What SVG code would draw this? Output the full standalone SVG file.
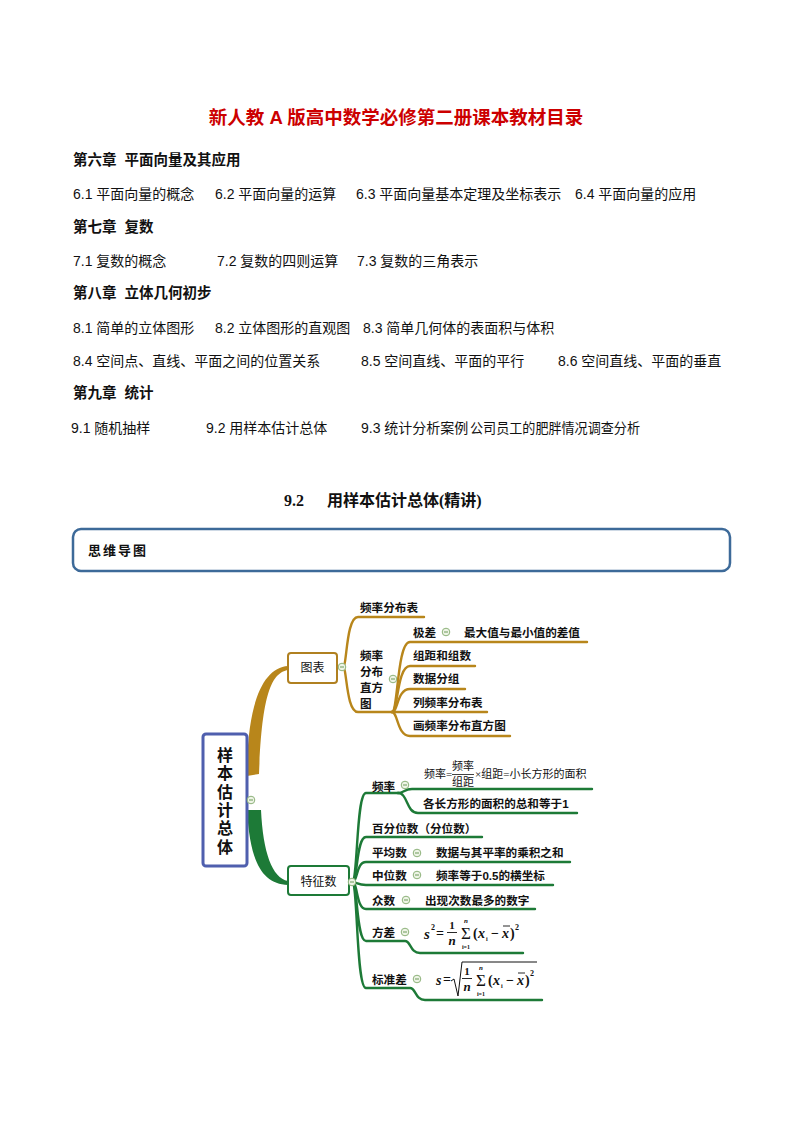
<svg xmlns="http://www.w3.org/2000/svg" xmlns:xlink="http://www.w3.org/1999/xlink" width="794" height="1123" viewBox="0 0 794 1123">
<style>
.t{font-family:"Liberation Sans","Noto Sans CJK SC",sans-serif;font-size:14px;fill:#111}
.h{font-family:"Liberation Sans","Noto Sans CJK SC",sans-serif;font-size:14.5px;font-weight:bold;fill:#111}
.m{font-family:"Liberation Sans","Noto Sans CJK SC",sans-serif;font-size:11.6px;font-weight:bold;fill:#111}
.n{font-family:"Liberation Sans","Noto Sans CJK SC",sans-serif;font-size:12px;fill:#111}
.f{font-family:"Liberation Serif","Noto Sans CJK SC",serif;font-size:11px;fill:#111}
.fi{font-family:"Liberation Serif",serif;font-style:italic;font-weight:bold;fill:#111}
.fb{font-family:"Liberation Serif",serif;font-weight:bold;fill:#111}
.br{fill:none;stroke:#b8861b;stroke-width:2.4;stroke-linecap:round}
.gr{fill:none;stroke:#1d7a37;stroke-width:2.4;stroke-linecap:round}
</style>
<defs>
<g id="col"><circle r="3.8" fill="#eef4e6" stroke="#8db27a" stroke-width="1"/><line x1="-2" y1="0" x2="2" y2="0" stroke="#6d9a5a" stroke-width="1"/></g>
</defs>
<rect width="794" height="1123" fill="#fff"/>

<text x="396" y="124" text-anchor="middle" font-family="Liberation Sans,Noto Sans CJK SC,sans-serif" font-size="18.5" font-weight="bold" fill="#cc0000">新人教 A 版高中数学必修第二册课本教材目录</text>

<text class="h" x="73" y="165">第六章<tspan dx="8">平面向量及其应用</tspan></text>
<text class="t" x="73" y="199">6.1 平面向量的概念</text>
<text class="t" x="215" y="199">6.2 平面向量的运算</text>
<text class="t" x="356" y="199">6.3 平面向量基本定理及坐标表示</text>
<text class="t" x="575" y="199">6.4 平面向量的应用</text>
<text class="h" x="73" y="232">第七章<tspan dx="8">复数</tspan></text>
<text class="t" x="73" y="266">7.1 复数的概念</text>
<text class="t" x="217" y="266">7.2 复数的四则运算</text>
<text class="t" x="357" y="266">7.3 复数的三角表示</text>
<text class="h" x="73" y="298">第八章<tspan dx="8">立体几何初步</tspan></text>
<text class="t" x="73" y="333">8.1 简单的立体图形</text>
<text class="t" x="215" y="333">8.2 立体图形的直观图</text>
<text class="t" x="363" y="333">8.3 简单几何体的表面积与体积</text>
<text class="t" x="73" y="366">8.4 空间点、直线、平面之间的位置关系</text>
<text class="t" x="361" y="366">8.5 空间直线、平面的平行</text>
<text class="t" x="558" y="366">8.6 空间直线、平面的垂直</text>
<text class="h" x="73" y="398">第九章<tspan dx="8">统计</tspan></text>
<text class="t" x="71" y="433" font-size="12.5">9.1 随机抽样</text>
<text class="t" x="206" y="433" font-size="12.5">9.2 用样本估计总体</text>
<text class="t" x="361" y="433" font-size="12.5">9.3 统计分析案例</text>
<text class="t" x="470" y="433" font-size="12.5" textLength="170" lengthAdjust="spacingAndGlyphs">公司员工的肥胖情况调查分析</text>

<text x="284" y="506" font-family="Liberation Serif,Noto Sans CJK SC,serif" font-size="16" font-weight="bold" fill="#111">9.2<tspan x="327">用样本估计总体(精讲)</tspan></text>

<rect x="73" y="529" width="657" height="42" rx="8" fill="#fff" stroke="#3d6a99" stroke-width="2.5"/>
<text x="88" y="555" font-family="Liberation Sans,Noto Sans CJK SC,sans-serif" font-size="13" font-weight="bold" letter-spacing="2" fill="#111">思维导图</text>

<g id="connectors">
<path d="M247 776 C247 705 262 668 288 666 L288 670 C272 673 262 692 259 774 Z" fill="#b8861b"/>
<path d="M247 810 L261 810 C263 852 272 878 288 881 L288 885 C262 884 250 862 247 810 Z" fill="#1d7a37"/>
<path class="br" d="M343 667 C347 667 346 617 358 617 L424 617"/>
<path class="br" d="M343 667 C347 667 346 712 358 712 L392 712"/>
<path class="br" d="M392 712 C398 712 397 642 410 642 L587 642"/>
<path class="br" d="M392 712 C398 712 397 666 410 666 L475 666"/>
<path class="br" d="M392 712 C398 712 397 689 410 689 L465 689"/>
<path class="br" d="M392 712 L487 712"/>
<path class="br" d="M392 712 C398 712 397 736 410 736 L510 736"/>
<path class="gr" d="M352 882 C358 882 356 793 366 793 L398 793"/>
<path class="gr" d="M398 793 C404 793 404 789 412 789 L592 789"/>
<path class="gr" d="M398 793 C408 793 406 813 418 813 L577 813"/>
<path class="gr" d="M352 882 C358 882 356 837 366 837 L482 837"/>
<path class="gr" d="M352 882 C358 882 356 862 366 862 L570 862"/>
<path class="gr" d="M352 882 C356 882 358 885 366 885 L553 885"/>
<path class="gr" d="M352 882 C358 882 356 909 366 909 L535 909"/>
<path class="gr" d="M352 882 C358 882 356 941 366 941 L405 941 C411 941 410 953 420 953 L523 953"/>
<path class="gr" d="M352 882 C358 882 356 988 366 988 L410 988 C416 988 415 1000 425 1000 L542 1000"/>
</g>

<g id="main">
<rect x="203" y="734" width="44" height="132" rx="3" fill="#fff" stroke="#4f5fae" stroke-width="3"/>
<g font-family="Liberation Sans,Noto Sans CJK SC,sans-serif" font-size="16" font-weight="bold" fill="#111" text-anchor="middle">
<text x="225" y="761">样</text><text x="225" y="779">本</text><text x="225" y="798">估</text><text x="225" y="816">计</text><text x="225" y="834">总</text><text x="225" y="853">体</text>
</g>
<use xlink:href="#col" x="251" y="800"/>
</g>

<g id="tubiao">
<rect x="288" y="653" width="49" height="30" rx="3" fill="#fff" stroke="#b08020" stroke-width="2"/>
<text class="n" x="312.5" y="672" text-anchor="middle">图表</text>
<use xlink:href="#col" x="342" y="667"/>
</g>
<g id="pinlvfenbubiao"><text class="m" x="360" y="612">频率分布表</text></g>
<g id="zhifangtu">
<text class="m" x="360" y="659.5">频率</text><text class="m" x="360" y="675.5">分布</text><text class="m" x="360" y="691.5">直方</text><text class="m" x="360" y="707.5">图</text>
<use xlink:href="#col" x="393" y="679"/>
</g>
<g id="jicha"><text class="m" x="413" y="637">极差</text><use xlink:href="#col" x="446" y="632"/></g>
<g id="jicha-def"><text class="m" x="464" y="637">最大值与最小值的差值</text></g>
<g id="zuju"><text class="m" x="413" y="660">组距和组数</text></g>
<g id="fenzu"><text class="m" x="413" y="683">数据分组</text></g>
<g id="liebiao"><text class="m" x="413" y="707">列频率分布表</text></g>
<g id="huatu"><text class="m" x="413" y="730">画频率分布直方图</text></g>

<g id="tezhengshu">
<rect x="288" y="866" width="61" height="29" rx="3" fill="#fff" stroke="#1d7a37" stroke-width="2"/>
<text class="n" x="318.5" y="885.5" text-anchor="middle">特征数</text>
<use xlink:href="#col" x="352" y="882"/>
</g>
<g id="pinlv"><text class="m" x="372" y="791">频率</text><use xlink:href="#col" x="405" y="785"/></g>
<g id="pinlv-formula">
<text class="f" x="424" y="778">频率=</text>
<text class="f" x="463" y="770" text-anchor="middle">频率</text>
<line x1="452" y1="774.5" x2="474" y2="774.5" stroke="#111" stroke-width="0.8"/>
<text class="f" x="463" y="786" text-anchor="middle">组距</text>
<text class="f" x="475" y="778">×组距=小长方形的面积</text>
</g>
<g id="zonghe"><text class="m" x="423" y="808">各长方形的面积的总和等于1</text></g>
<g id="baifenwei"><text class="m" x="372" y="833">百分位数（分位数）</text></g>
<g id="pingjun"><text class="m" x="372" y="857">平均数</text><use xlink:href="#col" x="417" y="853"/><text class="m" x="436" y="857">数据与其平率的乘积之和</text></g>
<g id="zhongwei"><text class="m" x="372" y="880">中位数</text><use xlink:href="#col" x="417" y="875"/><text class="m" x="436" y="880">频率等于0.5的横坐标</text></g>
<g id="zhongshu"><text class="m" x="372" y="905">众数</text><use xlink:href="#col" x="406" y="900"/><text class="m" x="425" y="905">出现次数最多的数字</text></g>
<g id="fangcha">
<text class="m" x="372" y="937">方差</text><use xlink:href="#col" x="405" y="932"/>
<text class="fi" x="424" y="939" font-size="15">s</text>
<text class="fb" x="431" y="930" font-size="8">2</text>
<text class="fb" x="436" y="938" font-size="14">=</text>
<text class="fb" x="452" y="929" font-size="11" text-anchor="middle">1</text>
<line x1="447" y1="932.5" x2="457" y2="932.5" stroke="#111" stroke-width="0.9"/>
<text class="fi" x="452" y="945" font-size="13" text-anchor="middle">n</text>
<text x="466" y="939" font-family="Liberation Serif,serif" font-size="17" text-anchor="middle" fill="#111">Σ</text>
<text class="fi" x="466" y="923" font-size="7" text-anchor="middle">n</text>
<text class="fb" x="466" y="949" font-size="6" text-anchor="middle">i=1</text>
<text class="fb" x="473" y="938" font-size="14">(</text>
<text class="fi" x="478" y="938" font-size="14">x</text>
<text class="fb" x="486" y="941" font-size="6">i</text>
<text class="fb" x="491" y="938" font-size="14">−</text>
<text class="fi" x="502" y="938" font-size="14">x</text>
<line x1="503" y1="926" x2="510" y2="926" stroke="#111" stroke-width="0.9"/>
<text class="fb" x="510" y="938" font-size="14">)</text>
<text class="fb" x="515" y="930" font-size="8">2</text>
</g>
<g id="biaozhuncha">
<text class="m" x="372" y="984">标准差</text><use xlink:href="#col" x="417" y="979"/>
<text class="fi" x="436" y="985" font-size="14">s</text>
<text class="fb" x="443" y="984" font-size="14">=</text>
<path d="M451 981 L454 979 L458 996 L462 962 L537 962" fill="none" stroke="#111" stroke-width="1"/>
<text class="fb" x="467" y="975" font-size="11" text-anchor="middle">1</text>
<line x1="462" y1="978.5" x2="472" y2="978.5" stroke="#111" stroke-width="0.9"/>
<text class="fi" x="467" y="991" font-size="13" text-anchor="middle">n</text>
<text x="481" y="986" font-family="Liberation Serif,serif" font-size="17" text-anchor="middle" fill="#111">Σ</text>
<text class="fi" x="481" y="970" font-size="7" text-anchor="middle">n</text>
<text class="fb" x="481" y="996" font-size="6" text-anchor="middle">i=1</text>
<text class="fb" x="488" y="985" font-size="14">(</text>
<text class="fi" x="493" y="985" font-size="14">x</text>
<text class="fb" x="501" y="988" font-size="6">i</text>
<text class="fb" x="506" y="985" font-size="14">−</text>
<text class="fi" x="517" y="985" font-size="14">x</text>
<line x1="518" y1="973" x2="525" y2="973" stroke="#111" stroke-width="0.9"/>
<text class="fb" x="525" y="985" font-size="14">)</text>
<text class="fb" x="530" y="976" font-size="8">2</text>
</g>
</svg>
